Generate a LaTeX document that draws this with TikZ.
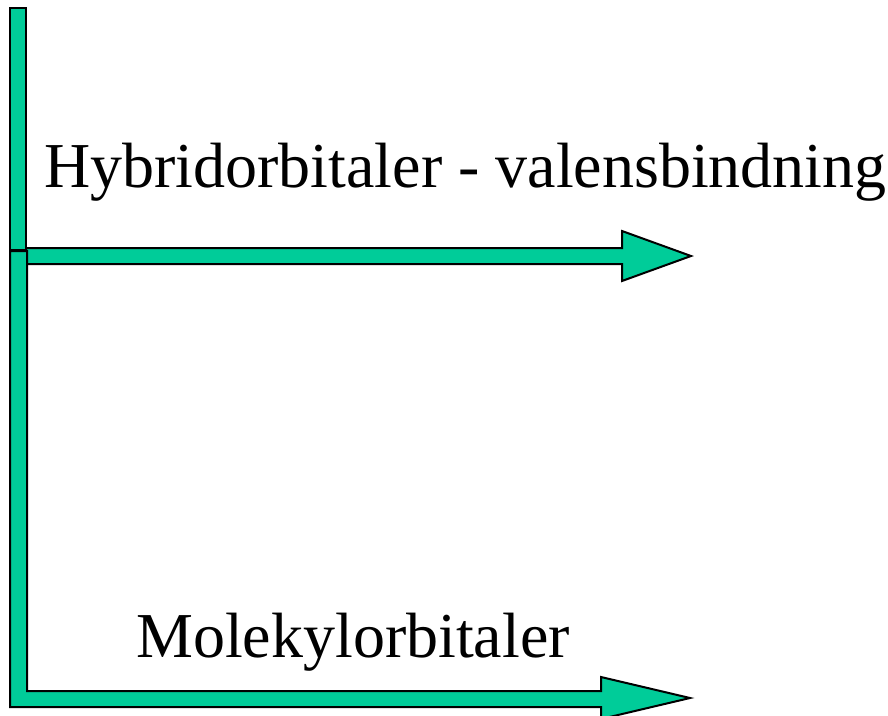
\documentclass[tikz,border=0pt]{standalone}
\usepackage{fontspec}
\setmainfont{Liberation Serif}
\definecolor{arrowgreen}{HTML}{00CC99}
\begin{document}
\begin{tikzpicture}[x=1pt,y=-1pt,
  band/.style={fill=arrowgreen,draw=black,line width=2pt,line join=miter},
  label/.style={anchor=base west,inner sep=0pt,font=\fontsize{64}{70}\selectfont}]
\useasboundingbox (0,0) rectangle (888,715);
\clip (0,0) rectangle (888,715);
% upper horizontal arrow
\draw[band] (26,248) -- (622,248) -- (622,231) -- (691,256) -- (622,281)
  -- (622,264) -- (26,264) -- cycle;
% upper vertical bar
\draw[band] (10,8) rectangle (26,250);
% lower L-shaped arrow
\draw[band] (10,251) -- (27,251) -- (27,691) -- (601,691) -- (601,677)
  -- (690,698) -- (601,719) -- (601,707) -- (10,707) -- cycle;
\node[label] (hyb) at (44,187) {Hybridorbitaler - valensbindning};
\node[label] (mol) at (136,657) {Molekylorbitaler};
\end{tikzpicture}
\end{document}
